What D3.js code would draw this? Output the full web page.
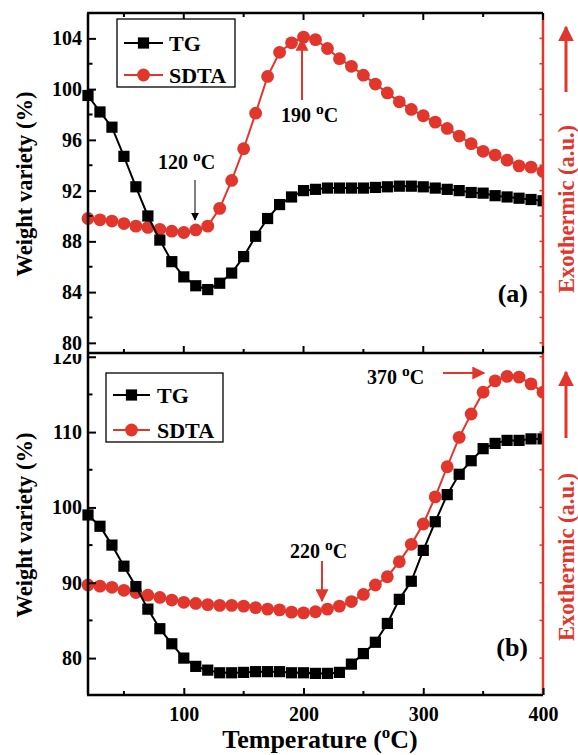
<!DOCTYPE html>
<html><head><meta charset="utf-8">
<script src="https://cdn.jsdelivr.net/npm/d3@7/dist/d3.min.js"></script>
<style>body{margin:0;background:#fff}svg{display:block}text{font-family:"Liberation Serif","Times New Roman",serif;font-weight:bold}</style>
</head><body><svg id="c" width="578" height="755"></svg>
<script>
const temps = [20,30,40,50,60,70,80,90,100,110,120,130,140,150,160,170,180,190,200,210,220,230,240,250,260,270,280,290,300,310,320,330,340,350,360,370,380,390,400];
const tgA = [99.5,98.2,97.0,94.7,92.3,90.0,88.1,86.4,85.2,84.5,84.2,84.7,85.5,86.8,88.4,89.8,90.9,91.5,92.0,92.1,92.2,92.2,92.2,92.2,92.25,92.3,92.35,92.35,92.3,92.2,92.1,92.0,91.85,91.8,91.6,91.5,91.4,91.3,91.2];
const sdtaA = [89.8,89.7,89.6,89.4,89.2,89.1,88.95,88.8,88.7,88.9,89.2,90.6,92.8,95.3,98.1,101.0,102.9,103.65,104.1,103.9,103.2,102.4,101.8,101.1,100.4,99.7,99.0,98.4,97.9,97.4,96.9,96.3,95.7,95.1,94.8,94.4,93.95,93.85,93.5];
const tgB = [99.0,97.5,95.0,92.2,89.5,86.5,83.9,81.9,80.0,78.9,78.4,78.05,78.05,78.1,78.2,78.2,78.2,78.05,78.05,77.97,77.97,78.1,79.2,80.6,82.1,84.6,87.8,90.2,94.3,98.1,101.7,104.4,106.2,107.8,108.5,108.9,108.9,109.1,109.1];
const sdtaB = [89.7,89.55,89.4,89.0,88.7,88.35,88.05,87.7,87.4,87.25,87.1,87.0,87.0,86.9,86.7,86.5,86.4,86.1,86.0,86.15,86.5,86.9,87.5,88.45,89.7,90.8,92.8,95.1,97.8,101.4,105.4,109.3,112.4,115.3,116.8,117.4,117.3,116.4,115.3];
const xTicks = [100,200,300,400];
const xMinor = [50,150,250,350];
const yTicksA = [80,84,88,92,96,100,104];
const yTicksB = [80,90,100,110,120];
const seriesNames = ["TG","SDTA"];

const RED = "#e2352b";
const svg = d3.select("#c");
const L = 88, R = 543, T = 13, M = 353, B = 695;
const x = d3.scaleLinear().domain([20,400]).range([L,R]);
const yA = d3.scaleLinear().domain([79.2,106]).range([M,T]);
const yB = d3.scaleLinear().domain([75.1,120.5]).range([B,M]);

const defs = svg.append("defs");
defs.append("clipPath").attr("id","clip").append("rect")
  .attr("x",40).attr("y",0).attr("width",R-40).attr("height",755);
defs.append("clipPath").attr("id","clipB").append("rect")
  .attr("x",0).attr("y",M+1).attr("width",578).attr("height",755-M);
function marker(id,color,size){
  defs.append("marker").attr("id",id).attr("viewBox","0 0 10 10").attr("refX",9).attr("refY",5)
    .attr("markerWidth",size).attr("markerHeight",size).attr("orient","auto").attr("markerUnits","userSpaceOnUse")
    .append("path").attr("d","M0,0L10,5L0,10Z").attr("fill",color);
}
marker("ahK","#000",8); marker("ahR",RED,13); marker("ahR2",RED,16);

function sup(sel, pre, post){
  sel.append("tspan").text(pre);
  sel.append("tspan").attr("font-size","0.78em").attr("dy","-0.5em").text("o");
  sel.append("tspan").attr("dy","0.39em").text(post);
}

function panel(g, y, tg, sd, yTicks, minorStep, rightStep, top, bottom, clipTicks){
  const pg = g.append("g").attr("clip-path","url(#clip)");
  const line = d3.line().x((d,i)=>x(temps[i])).y(d=>y(d));
  pg.append("path").datum(sd).attr("d",line).attr("fill","none").attr("stroke",RED).attr("stroke-width",2);
  pg.selectAll(".c").data(sd).enter().append("circle").attr("cx",(d,i)=>x(temps[i])).attr("cy",d=>y(d)).attr("r",6.4).attr("fill",RED);
  pg.append("path").datum(tg).attr("d",line).attr("fill","none").attr("stroke","#000").attr("stroke-width",2);
  pg.selectAll(".s").data(tg).enter().append("rect").attr("x",(d,i)=>x(temps[i])-5.6).attr("y",d=>y(d)-5.6).attr("width",11.2).attr("height",11.2).attr("fill","#000");
  const la = d3.axisLeft(y).tickValues(yTicks).tickSize(-8).tickPadding(6).tickFormat(d3.format("d"));
  const wrap = g.append("g");
  if (clipTicks) wrap.attr("clip-path","url(#clipB)");
  const lg = wrap.append("g").attr("transform",`translate(${L},0)`).call(la);
  lg.select(".domain").remove();
  lg.selectAll("line").attr("stroke","#000").attr("stroke-width",2);
  lg.selectAll("text").attr("font-size",20).attr("fill","#000");
  const minors = d3.range(Math.ceil(y.domain()[0]/minorStep)*minorStep, y.domain()[1], minorStep).filter(v=>!yTicks.includes(v));
  g.selectAll(".ym").data(minors).enter().append("line").attr("x1",L).attr("x2",L+4.5).attr("y1",d=>y(d)).attr("y2",d=>y(d)).attr("stroke","#000").attr("stroke-width",2);
  g.append("line").attr("x1",L).attr("x2",L).attr("y1",top).attr("y2",bottom).attr("stroke","#000").attr("stroke-width",2.5);
  const rt = d3.range(Math.ceil(y.domain()[0]/rightStep)*rightStep, y.domain()[1], rightStep);
  g.selectAll(".yr").data(rt).enter().append("line").attr("x1",R).attr("x2",R-3.5).attr("y1",d=>y(d)).attr("y2",d=>y(d)).attr("stroke",RED).attr("stroke-width",1.5);
  g.append("line").attr("x1",R).attr("x2",R).attr("y1",top).attr("y2",bottom).attr("stroke",RED).attr("stroke-width",2.5);
}

// ---------- bottom panel (b) ----------
const gb = svg.append("g");
panel(gb, yB, tgB, sdtaB, yTicksB, 5, 5, M, B, true);
const xa = d3.axisBottom(x).tickValues(xTicks).tickSize(-7).tickPadding(12).tickFormat(d3.format("d"));
const xg = gb.append("g").attr("transform",`translate(0,${B})`).call(xa);
xg.select(".domain").remove();
xg.selectAll("line").attr("stroke","#000").attr("stroke-width",2);
xg.selectAll("text").attr("font-size",20).attr("fill","#000");
gb.selectAll(".xm").data(xMinor).enter().append("line").attr("x1",d=>x(d)).attr("x2",d=>x(d)).attr("y1",B).attr("y2",B-4).attr("stroke","#000").attr("stroke-width",2);
gb.append("line").attr("x1",L-1).attr("x2",R).attr("y1",B).attr("y2",B).attr("stroke","#000").attr("stroke-width",2.5);

// ---------- top panel (a) ----------
const ga = svg.append("g");
panel(ga, yA, tgA, sdtaA, yTicksA, 2, 2, T, M, false);
[[T,1],[M,-1]].forEach(([yy,dir])=>{
  ga.selectAll(null).data(xTicks.concat(xMinor)).enter().append("line")
    .attr("x1",d=>x(d)).attr("x2",d=>x(d)).attr("y1",yy).attr("y2",d=>yy+dir*(xTicks.includes(d)?7:4)).attr("stroke","#000").attr("stroke-width",2);
  ga.append("line").attr("x1",L-1).attr("x2",R).attr("y1",yy).attr("y2",yy).attr("stroke","#000").attr("stroke-width",2.5);
});

// ---------- legends ----------
function legend(g, bx, by, bw, bh, r1, r2, lx1, lx2, tx){
  g.append("rect").attr("x",bx).attr("y",by).attr("width",bw).attr("height",bh).attr("fill","#fff").attr("stroke","#000").attr("stroke-width",1.3);
  const mx = (lx1+lx2)/2;
  g.append("line").attr("x1",lx1).attr("x2",lx2).attr("y1",r1).attr("y2",r1).attr("stroke","#000").attr("stroke-width",2);
  g.append("rect").attr("x",mx-5.6).attr("y",r1-5.6).attr("width",11.2).attr("height",11.2).attr("fill","#000");
  g.append("line").attr("x1",lx1).attr("x2",lx2).attr("y1",r2).attr("y2",r2).attr("stroke",RED).attr("stroke-width",2);
  g.append("circle").attr("cx",mx).attr("cy",r2).attr("r",6.4).attr("fill",RED);
  g.append("text").attr("x",tx).attr("y",r1+8).attr("font-size",22).text(seriesNames[0]);
  g.append("text").attr("x",tx).attr("y",r2+8).attr("font-size",22).text(seriesNames[1]);
}
legend(ga, 117, 19, 118, 68, 43, 75, 124, 163, 169);
legend(gb, 106, 373, 117, 69, 395, 430, 113, 150, 157);

// ---------- annotations ----------
sup(ga.append("text").attr("x",158).attr("y",169).attr("font-size",20), "120 ", "C");
ga.append("line").attr("x1",195).attr("x2",195).attr("y1",180).attr("y2",220).attr("stroke","#000").attr("stroke-width",1).attr("marker-end","url(#ahK)");
sup(ga.append("text").attr("x",281).attr("y",122).attr("font-size",20), "190 ", "C");
ga.append("line").attr("x1",302).attr("x2",302).attr("y1",100).attr("y2",39).attr("stroke",RED).attr("stroke-width",2).attr("marker-end","url(#ahR)");
ga.append("text").attr("x",528).attr("y",302).attr("font-size",26).attr("text-anchor","end").text("(a)");

sup(gb.append("text").attr("x",367).attr("y",384).attr("font-size",20), "370 ", "C");
gb.append("line").attr("x1",443).attr("x2",484).attr("y1",373).attr("y2",373).attr("stroke",RED).attr("stroke-width",2).attr("marker-end","url(#ahR)");
sup(gb.append("text").attr("x",290).attr("y",558).attr("font-size",20), "220 ", "C");
gb.append("line").attr("x1",322).attr("x2",322).attr("y1",561).attr("y2",601).attr("stroke",RED).attr("stroke-width",2).attr("marker-end","url(#ahR)");
gb.append("text").attr("x",528).attr("y",656).attr("font-size",26).attr("text-anchor","end").text("(b)");

// ---------- axis titles ----------
[[ga,184],[gb,525]].forEach(([g,cy])=>{
  g.append("text").attr("transform",`translate(32,${cy}) rotate(-90)`).attr("text-anchor","middle").attr("font-size",22.5).text("Weight variety (%)");
});
[[ga,209,92,27],[gb,557,438,372]].forEach(([g,cy,a1,a2])=>{
  g.append("text").attr("transform",`translate(574,${cy}) rotate(-90)`).attr("text-anchor","middle").attr("font-size",22.5).attr("fill",RED).text("Exothermic (a.u.)");
  g.append("line").attr("x1",566).attr("x2",566).attr("y1",a1).attr("y2",a2).attr("stroke",RED).attr("stroke-width",3).attr("marker-end","url(#ahR2)");
});
const tt = svg.append("text").attr("x",320).attr("y",748).attr("text-anchor","middle").attr("font-size",26);
tt.append("tspan").text("Temperature (");
tt.append("tspan").attr("font-size","0.65em").attr("dy","-0.6em").text("o");
tt.append("tspan").attr("dy","0.39em").text("C)");
</script></body></html>
